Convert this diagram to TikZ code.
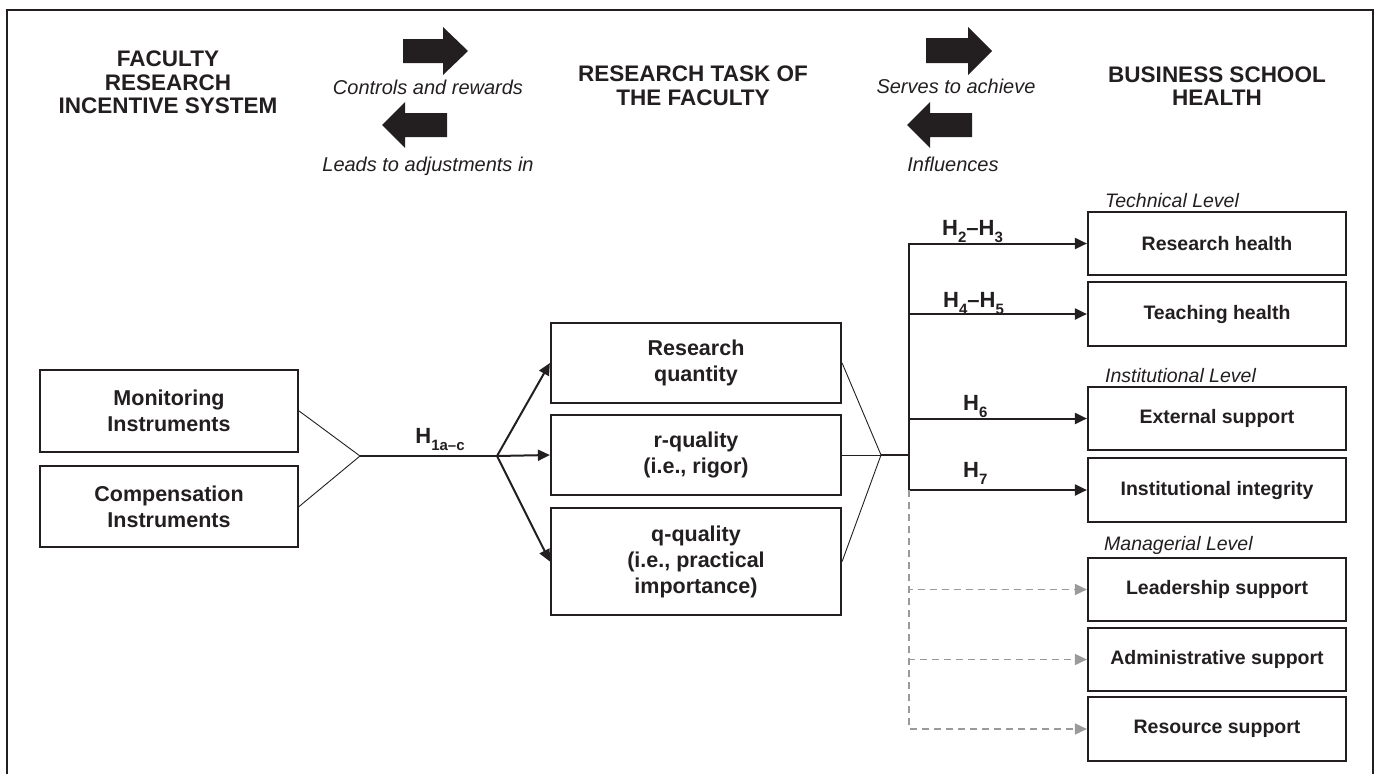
\documentclass[tikz,border=0pt]{standalone}
\usepackage{fontspec}
\setmainfont{Liberation Sans}
\usetikzlibrary{arrows.meta}
\definecolor{ink}{HTML}{231F20}
\definecolor{dgray}{HTML}{9A9A9A}
\newcommand{\hsub}[1]{\raisebox{-0.32em}{\fontsize{15}{15}\selectfont #1}}
\begin{document}
\begin{tikzpicture}[x=1pt,y=-1pt,
  box/.style={draw=ink, line width=2.2pt, minimum width=258pt, align=center, inner sep=0pt,
    font=\bfseries\fontsize{19.5}{25.5}\selectfont, text=ink},
  bigbox/.style={box, font=\bfseries\fontsize{21.5}{26}\selectfont},
  head/.style={align=center, inner sep=0pt, font=\bfseries\fontsize{22.5}{23.5}\selectfont, text=ink},
  verb/.style={anchor=base, inner sep=0pt, font=\itshape\fontsize{20}{22}\selectfont, text=ink},
  level/.style={anchor=base west, inner sep=0pt, font=\itshape\fontsize{19.5}{22}\selectfont, text=ink},
  hyp/.style={anchor=base west, inner sep=0pt, font=\bfseries\fontsize{22}{24}\selectfont, text=ink},
  thin/.style={draw=ink, line width=0.9pt},
  arr/.style={draw=ink, line width=2pt, -{Triangle[length=12pt,width=11pt]}},
  dsh/.style={draw=dgray, line width=1.7pt, dash pattern=on 7pt off 5pt, -{Triangle[length=12pt,width=11pt,fill=dgray]}},
  blockarrow/.style={fill=ink}
]
\useasboundingbox (0,0) rectangle (1379,774);
% frame
\draw[ink, line width=2.5pt] (7,774) -- (7,10) -- (1373,10) -- (1373,774);

% headers
\node[head] (h1) at (168,82.5) {FACULTY\\RESEARCH\\INCENTIVE SYSTEM};
\node[head] (h2) at (693,86) {RESEARCH TASK OF\\THE FACULTY};
\node[head] (h3) at (1217,86) {BUSINESS SCHOOL\\HEALTH};

% block arrows
\fill[blockarrow] (403,39) -- (443,39) -- (443,27) -- (468,51) -- (443,75) -- (443,63) -- (403,63) -- cycle;
\fill[blockarrow] (447,113) -- (405,113) -- (405,102) -- (382,125) -- (405,148) -- (405,137) -- (447,137) -- cycle;
\fill[blockarrow] (926,38) -- (968,38) -- (968,27) -- (992,51) -- (968,75) -- (968,63) -- (926,63) -- cycle;
\fill[blockarrow] (972,113) -- (930,113) -- (930,102) -- (907,125) -- (930,148) -- (930,137) -- (972,137) -- cycle;

\node[verb] (v1) at (428,94) {Controls and rewards};
\node[verb] (v2) at (428,171) {Leads to adjustments in};
\node[verb] (v3) at (956,93) {Serves to achieve};
\node[verb] (v4) at (953,171) {Influences};

% left boxes
\node[bigbox, minimum height=82pt] (mon) at (169,411) {Monitoring\\Instruments};
\node[bigbox, minimum height=81pt] (comp) at (169,506.5) {Compensation\\Instruments};

% middle boxes
\node[bigbox, minimum width=290pt, minimum height=80pt] (rq) at (696,363) {Research\\quantity};
\node[bigbox, minimum width=290pt, minimum height=80pt] (rqual) at (696,455) {r-quality\\(i.e., rigor)};
\node[bigbox, minimum width=290pt, minimum height=107pt] (qq) at (696,561.5) {q-quality\\(i.e., practical\\importance)};

% right boxes
\node[box, minimum height=63pt] (rh) at (1217,243.5) {Research health};
\node[box, minimum height=64pt] (th) at (1217,314) {Teaching health};
\node[box, minimum height=63pt] (es) at (1217,418.5) {External support};
\node[box, minimum height=64pt] (ii) at (1217,490) {Institutional integrity};
\node[box, minimum height=63pt] (ls) at (1217,589.5) {Leadership support};
\node[box, minimum height=63pt] (as) at (1217,659.5) {Administrative support};
\node[box, minimum height=64pt] (rs) at (1217,729) {Resource support};

% level labels
\node[level] (l1) at (1105,207) {Technical Level};
\node[level] (l2) at (1105,382) {Institutional Level};
\node[level] (l3) at (1104,550) {Managerial Level};

% coordinates
\coordinate (p1) at (360,456);
\coordinate (p2) at (497,456);
\coordinate (p3) at (881,455);
\coordinate (j) at (909,455);
\coordinate (k) at (909,490);

% left convergence
\draw[thin] (mon.east) -- (p1);
\draw[thin] (comp.east) -- (p1);
\draw[draw=ink, line width=1.2pt] (p1) -- (p2);
\node[hyp, anchor=base] (hy1) at (440,443) {H\hsub{1a–c}};

% divergence
\draw[arr] (p2) -- (rq.west);
\draw[arr] (p2) -- (rqual.west);
\draw[arr] (p2) -- (qq.west);

% right convergence
\draw[thin] (rq.east) -- (p3);
\draw[thin] (rqual.east) -- (p3);
\draw[thin] (qq.east) -- (p3);
\draw[draw=ink, line width=2pt] (p3) -- (j);

% hypotheses arrows
\draw[arr] (j) |- (rh.west);
\draw[arr] (j) |- (th.west);
\draw[arr] (j) |- (es.west);
\draw[arr] (j) |- (ii.west);

\node[hyp] (hy2) at (942,235) {H\hsub{2}–H\hsub{3}};
\node[hyp] (hy4) at (943,307) {H\hsub{4}–H\hsub{5}};
\node[hyp] (hy6) at (963,410) {H\hsub{6}};
\node[hyp] (hy7) at (963,477) {H\hsub{7}};

% dashed (untested) links
\draw[dsh] (k) |- (ls.west);
\draw[dsh] (k) |- (as.west);
\draw[dsh] (k) |- (rs.west);
\end{tikzpicture}
\end{document}
